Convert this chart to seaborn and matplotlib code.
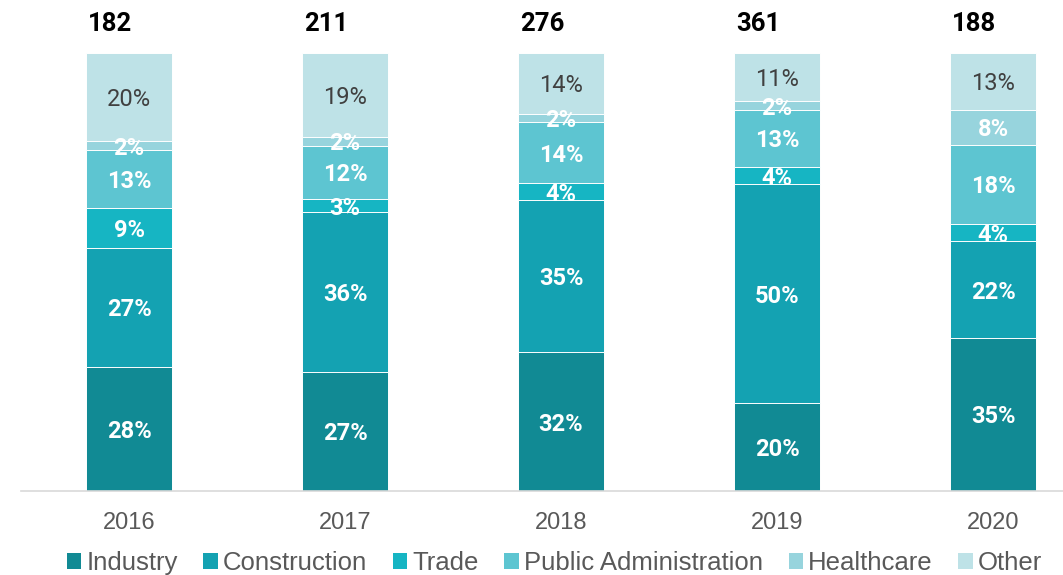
import numpy as np
import pandas as pd
import seaborn as sns
import matplotlib.pyplot as plt
from matplotlib.patches import Patch

# 数据
years = ['2016', '2017', '2018', '2019', '2020']
totals = [182, 211, 276, 361, 188]
sectors = ['Industry', 'Construction', 'Trade', 'Public Administration', 'Healthcare', 'Other']
industry = [28, 27, 32, 20, 35]
construction = [27, 36, 35, 50, 22]
trade = [9, 3, 4, 4, 4]
public_admin = [13, 12, 14, 13, 18]
healthcare = [2, 2, 2, 2, 8]
other = [20, 19, 14, 11, 13]
colors = ['#118a94', '#14a2b2', '#16b5c3', '#5dc5d1', '#97d4dd', '#bee2e7']

sns.set_theme(style='white')
plt.rcParams['font.family'] = ['Liberation Sans', 'DejaVu Sans']

df = pd.DataFrame({'year': years, 'Industry': industry, 'Construction': construction,
                   'Trade': trade, 'Public Administration': public_admin,
                   'Healthcare': healthcare, 'Other': other})
# 标签是四舍五入的值，柱子按100%归一化
vals = df[sectors].to_numpy(dtype=float)
shares = vals / vals.sum(axis=1, keepdims=True) * 100
cum = np.cumsum(shares, axis=1)

fig = plt.figure(figsize=(10.63, 5.75), dpi=100)
ax = fig.add_axes([21 / 1063, 84 / 575, 1 - 21 / 1063, 438 / 575])

# 从上往下画累计高度，叠加成堆积柱
for j in range(len(sectors) - 1, -1, -1):
    d = pd.DataFrame({'year': years, 'v': cum[:, j]})
    sns.barplot(data=d, x='year', y='v', color=colors[j], saturation=1, width=0.4,
                edgecolor='white', linewidth=0.7, ax=ax)

for i in range(len(years)):
    for j in range(len(sectors)):
        y = cum[i, j] - shares[i, j] / 2
        if sectors[j] == 'Other':
            c, w = '#404040', 'normal'
        else:
            c, w = 'white', 'bold'
        ax.annotate(f'{int(vals[i, j])}%', xy=(i, y), xytext=(0, -1.8), textcoords='offset points',
                    ha='center', va='center', fontsize=17, family='Roboto', color=c, weight=w)
    ax.annotate(str(totals[i]), xy=(i, 100), xytext=(-13.7, 21), textcoords='offset points',
                ha='center', va='center', fontsize=18.5, family='Roboto', weight='bold',
                color='black', annotation_clip=False)

ax.set_xlim(-0.5, 4.324)
ax.set_ylim(0, 100)
ax.set_xlabel('')
ax.set_ylabel('')
ax.set_yticks([])
ax.tick_params(axis='x', length=0, pad=15, labelsize=17, labelcolor='#595959')
for s in ['top', 'right', 'left']:
    ax.spines[s].set_visible(False)
ax.spines['bottom'].set_color('#d9d9d9')
ax.spines['bottom'].set_linewidth(1.2)

handles = [Patch(facecolor=c, edgecolor='none') for c in colors]
fig.legend(handles, sectors, loc='center', bbox_to_anchor=(0.5216, 12 / 575), ncol=6,
           frameon=False, fontsize=18.5, handlelength=0.56, handleheight=0.56,
           handletextpad=0.2, columnspacing=1.0, labelcolor='#595959', borderaxespad=0)

fig.savefig('out.png', dpi=100)
